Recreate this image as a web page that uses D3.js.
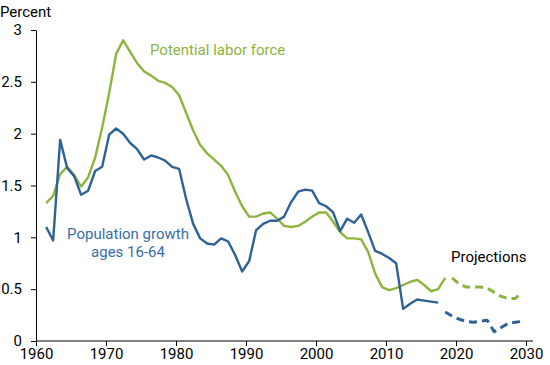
<!DOCTYPE html>
<html>
<head>
<meta charset="utf-8">
<script src="https://cdn.jsdelivr.net/npm/d3@7"></script>
<style>
  body { margin: 0; background: #fff; }
  text { font-family: Roboto, "Noto Sans", sans-serif; }
</style>
</head>
<body>
<script>
// historical data, 1961-2018
const histYears = d3.range(1961, 2019)
const laborForce = [1.33, 1.40, 1.61, 1.68, 1.60, 1.49, 1.58, 1.77, 2.06, 2.39,
  2.77, 2.90, 2.79, 2.68, 2.60, 2.56, 2.51, 2.49, 2.45, 2.37,
  2.20, 2.03, 1.89, 1.81, 1.75, 1.69, 1.60, 1.44, 1.30, 1.20,
  1.20, 1.23, 1.24, 1.18, 1.11, 1.10, 1.11, 1.15, 1.20, 1.24,
  1.24, 1.15, 1.05, 0.99, 0.99, 0.98, 0.86, 0.65, 0.52, 0.49,
  0.51, 0.54, 0.57, 0.59, 0.54, 0.48, 0.50, 0.61]
const popGrowth = [1.10, 0.97, 1.94, 1.67, 1.59, 1.41, 1.45, 1.64, 1.68, 1.99,
  2.05, 2.00, 1.91, 1.85, 1.75, 1.79, 1.77, 1.74, 1.68, 1.66,
  1.37, 1.13, 0.99, 0.94, 0.93, 0.99, 0.96, 0.83, 0.67, 0.77,
  1.07, 1.13, 1.16, 1.16, 1.20, 1.34, 1.44, 1.46, 1.45, 1.33,
  1.30, 1.24, 1.06, 1.18, 1.14, 1.22, 1.05, 0.87, 0.84, 0.80,
  0.75, 0.31, 0.36, 0.40, 0.39, 0.38, 0.37]

// projections
const laborProjYears = d3.range(2019, 2030)
const laborProj = [0.61, 0.55, 0.52, 0.52, 0.52, 0.51, 0.47, 0.43, 0.41, 0.41, 0.47]
const popProjYears = d3.range(2018, 2030)
const popProj = [0.28, 0.24, 0.21, 0.19, 0.18, 0.19, 0.20, 0.09, 0.13, 0.17, 0.18, 0.19]

const xTicks = [1960, 1970, 1980, 1990, 2000, 2010, 2020, 2030]
const yTicks = [0, 0.5, 1, 1.5, 2, 2.5, 3]

const green = "#8db43e", blue = "#2e6296"

const width = 550, height = 365
const margin = {top: 30, right: 17, bottom: 24, left: 36}

const svg = d3.select("body").append("svg")
  .attr("width", width)
  .attr("height", height)

const x = d3.scaleLinear()
  .domain([1960, 2030])
  .range([margin.left, 526])
const y = d3.scaleLinear()
  .domain([0, 3])
  .range([341, margin.top])

// axes
const xAxis = svg.append("g")
  .attr("transform", `translate(0, ${y(0)})`)
  .call(d3.axisBottom(x).tickValues(xTicks).tickFormat(d3.format("d")).tickSize(5).tickSizeOuter(0))
xAxis.select(".domain").attr("d", `M${margin.left},0H533`)
xAxis.selectAll("text").attr("y", 7).style("font-size", "15px").attr("fill", "#000")

const yAxis = svg.append("g")
  .attr("transform", `translate(${margin.left}, 0)`)
  .call(d3.axisLeft(y).tickValues(yTicks).tickFormat(d => d).tickSize(5).tickSizeOuter(0))
yAxis.selectAll("text").attr("x", -14).style("font-size", "15px").attr("fill", "#000")
svg.selectAll(".domain, .tick line").attr("stroke", "#000")

svg.append("text")
  .text("Percent")
  .attr("x", 0)
  .attr("y", 17)
  .style("font-size", "15px")

// lines, points sit at mid-year
const line = d3.line()
  .x(d => x(d[0] + 0.45))
  .y(d => y(d[1]))

function drawLine(years, vals, color, dashed) {
  svg.append("path")
    .attr("d", line(years.map((yr, i) => [yr, vals[i]])))
    .attr("fill", "none")
    .attr("stroke", color)
    .attr("stroke-width", dashed ? 3 : 2.4)
    .attr("stroke-linejoin", "round")
    .attr("stroke-dasharray", dashed ? "8,5" : null)
}

drawLine(histYears, laborForce, green, false)
drawLine(histYears.slice(0, popGrowth.length), popGrowth, blue, false)
drawLine(laborProjYears, laborProj, green, true)
drawLine(popProjYears, popProj, blue, true)

// labels
svg.append("text")
  .text("Potential labor force")
  .attr("x", 150)
  .attr("y", 55)
  .attr("fill", green)
  .style("font-size", "15px")

svg.append("text")
  .attr("text-anchor", "middle")
  .attr("fill", "#3a6ea5")
  .style("font-size", "15px")
  .selectAll("tspan")
  .data(["Population growth", "ages 16-64"])
  .join("tspan")
    .attr("x", 128)
    .attr("y", (d, i) => 239 + i * 18)
    .text(d => d)

svg.append("text")
  .text("Projections")
  .attr("x", 451)
  .attr("y", 262)
  .style("font-size", "15px")
</script>
</body>
</html>
